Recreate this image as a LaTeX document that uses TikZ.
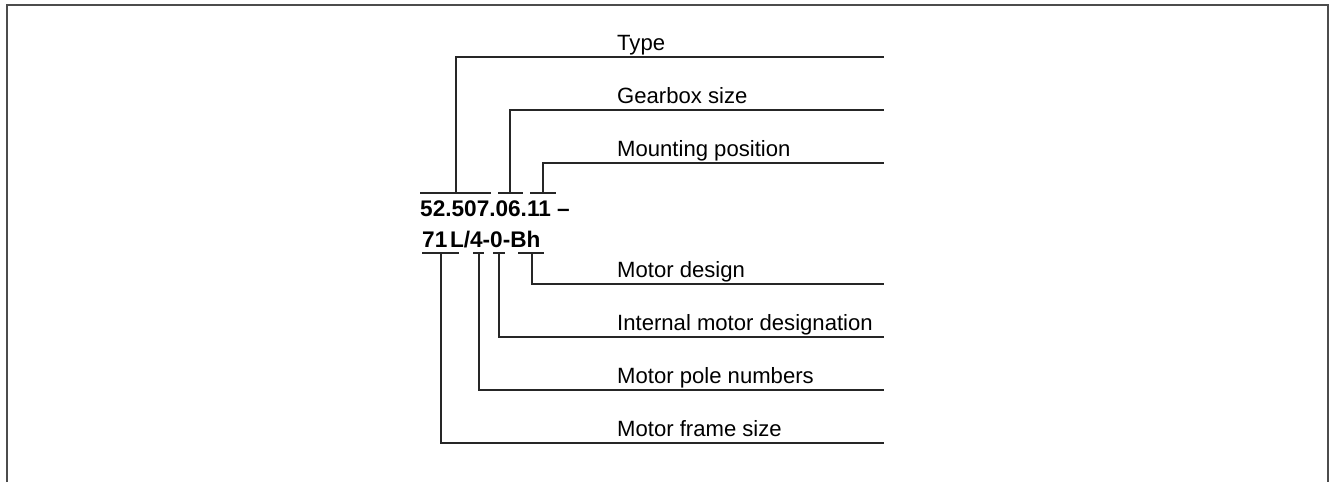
\documentclass[tikz,border=0pt]{standalone}
\usepackage{fontspec}
\setmainfont{Liberation Sans}
\begin{document}
\begin{tikzpicture}[x=1pt,y=-1pt,
  lbl/.style={anchor=base west, inner sep=0pt, font=\fontsize{22.1}{26}\selectfont},
  code/.style={anchor=base west, inner sep=0pt, font=\fontsize{22.6}{26}\selectfont\bfseries},
  lead/.style={draw=black!85, line width=1.1pt},
  frame/.style={draw=black!70, line width=1.6pt}]
\useasboundingbox (0,0) rectangle (1336,482);
\draw[frame] (7,482) -- (7,5) -- (1328,5) -- (1328,482);
% code text
\node[code] (c1) at (420,216) {52.507.06.11 --};
\node[code] (c2) at (422,247) {71\hspace{0.12em}L/4-0-Bh};
% top group, bracket at y=193
\foreach \n/\t/\vx/\ba/\bb/\ly in {
  ty/Type/456/420/491/57,
  gb/Gearbox size/510/498/523/110,
  mp/Mounting position/543/530/556/163}{
  \coordinate (\n-a) at (\ba,193);
  \coordinate (\n-b) at (\bb,193);
  \coordinate (\n-v) at (\vx,193);
  \coordinate (\n-c) at (\vx,\ly);
  \coordinate (\n-e) at (884,\ly);
  \draw[lead] (\n-a) -- (\n-b);
  \draw[lead] (\n-v) -- (\n-c) -- (\n-e);
  \node[lbl] (\n) at (617,\ly-7) {\t};
}
% bottom group, bracket at y=253
\foreach \n/\t/\vx/\ba/\bb/\ly in {
  md/Motor design/532/518/544/284,
  im/Internal motor designation/499/493/505/337,
  pn/Motor pole numbers/479/473/484/390,
  fs/Motor frame size/441/422/459/443}{
  \coordinate (\n-a) at (\ba,253);
  \coordinate (\n-b) at (\bb,253);
  \coordinate (\n-v) at (\vx,253);
  \coordinate (\n-c) at (\vx,\ly);
  \coordinate (\n-e) at (884,\ly);
  \draw[lead] (\n-a) -- (\n-b);
  \draw[lead] (\n-v) -- (\n-c) -- (\n-e);
  \node[lbl] (\n) at (617,\ly-7) {\t};
}
\end{tikzpicture}
\end{document}
